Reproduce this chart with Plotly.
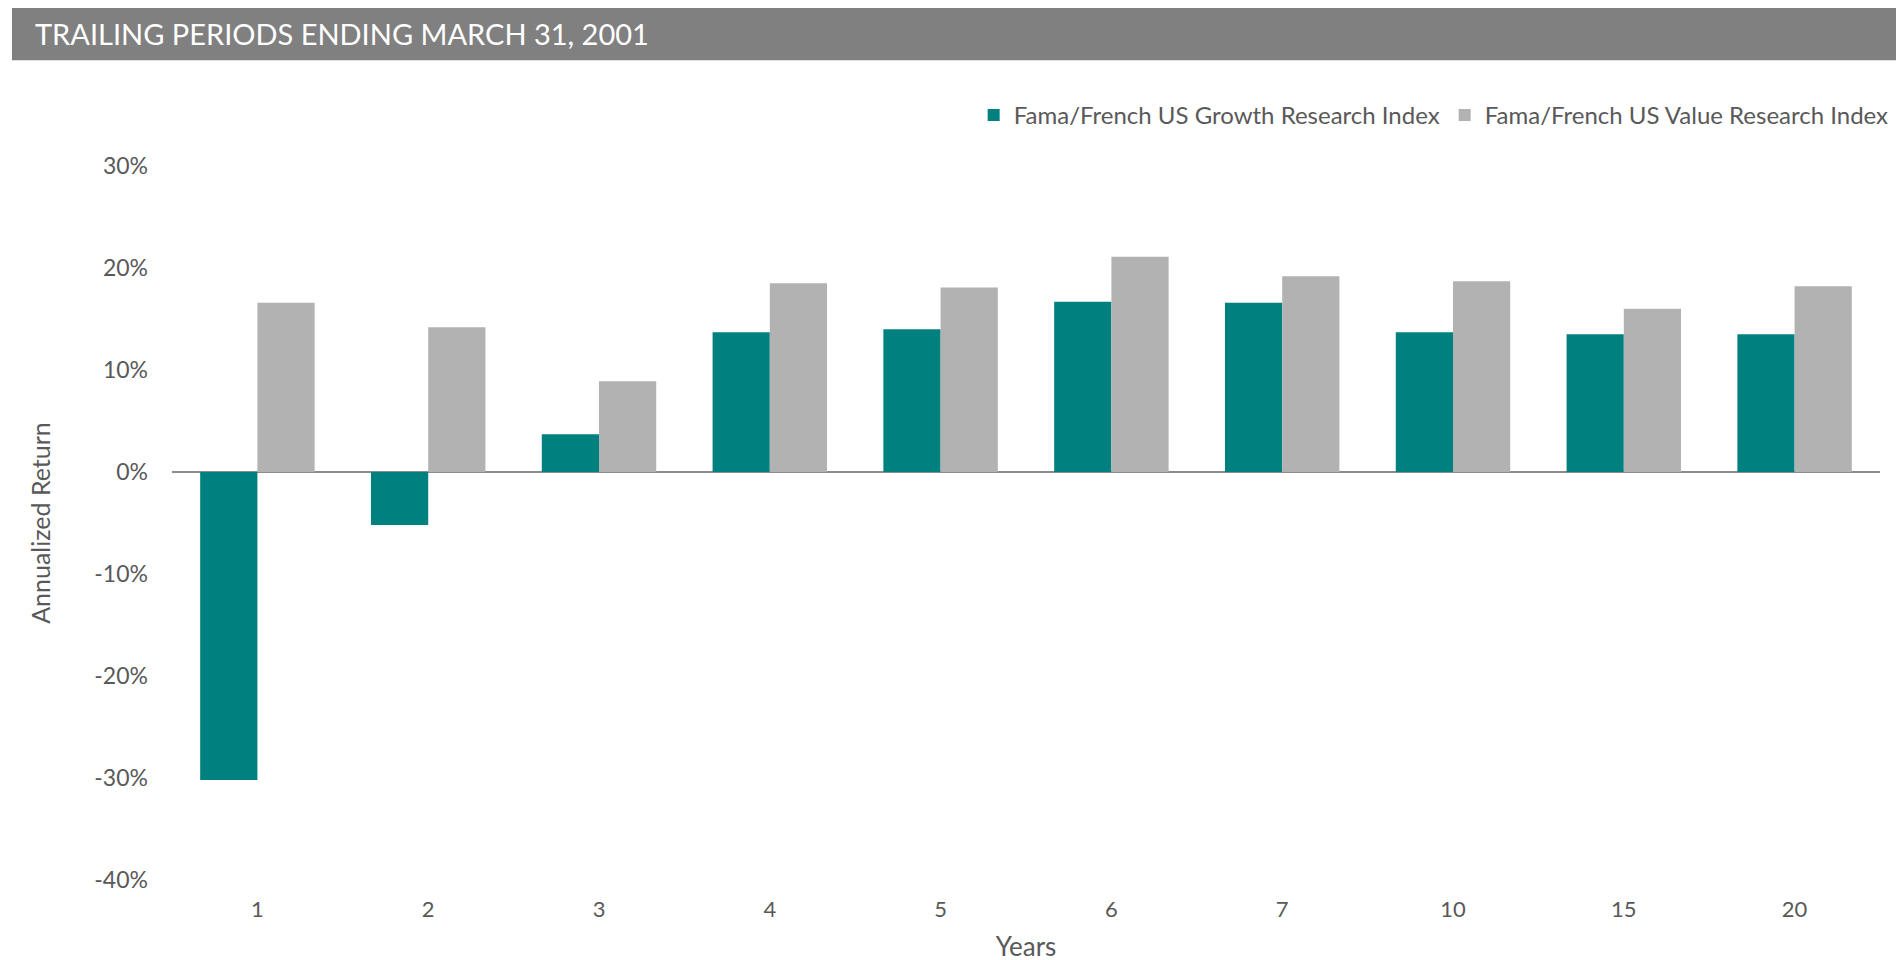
import plotly.graph_objs as go

years = ['1', '2', '3', '4', '5', '6', '7', '10', '15', '20']
growth = [-30.2, -5.2, 3.7, 13.7, 14.0, 16.7, 16.6, 13.7, 13.5, 13.5]
value = [16.6, 14.2, 8.9, 18.5, 18.1, 21.1, 19.2, 18.7, 16.0, 18.2]
y_ticks = [-40, -30, -20, -10, 0, 10, 20, 30]
y_labels = ['-40%', '-30%', '-20%', '-10%', '0%', '10%', '20%', '30%']

fig = go.Figure()
fig.add_trace(go.Bar(x=years, y=growth, name='Fama/French US Growth Research Index',
                     marker_color='#00807f', marker_line_width=0))
fig.add_trace(go.Bar(x=years, y=value, name='Fama/French US Value Research Index',
                     marker_color='#b2b2b2', marker_line_width=0))

fig.update_layout(
    width=1904, height=960, autosize=False,
    barmode='group', bargap=0.33, bargroupgap=0,
    plot_bgcolor='white', paper_bgcolor='white',
    font=dict(family='Lato', color='#595959', size=20),
    margin=dict(l=164, r=32, t=158, b=85),
    legend=dict(orientation='h', x=1.008, xanchor='right', y=1.071, yanchor='middle',
                font=dict(size=24, color='#595959'), itemwidth=30, traceorder='normal'),
    # title bar
    shapes=[dict(type='rect', xref='paper', yref='paper', x0=-0.0937, x1=1.04,
                 y0=1.148, y1=1.222, fillcolor='#808080', line_width=0, layer='below')],
    annotations=[dict(text='TRAILING PERIODS ENDING MARCH 31, 2001', xref='paper', yref='paper',
                      x=-0.0814, y=1.185, xanchor='left', yanchor='middle', showarrow=False,
                      font=dict(size=29, color='white'))],
)

fig.update_yaxes(range=[-40, 30], tickvals=y_ticks, ticktext=y_labels, showgrid=False,
                 zeroline=True, zerolinecolor='#8c8c8c', zerolinewidth=2,
                 ticklabelstandoff=23, tickfont_size=23,
                 title_text='Annualized Return', title_font_size=25, title_standoff=36)
fig.update_xaxes(showgrid=False, showline=False, ticklabelstandoff=14, tickfont_size=22,
                 title_text='Years', title_font_size=26, title_standoff=16)

fig.write_html("out.html")
